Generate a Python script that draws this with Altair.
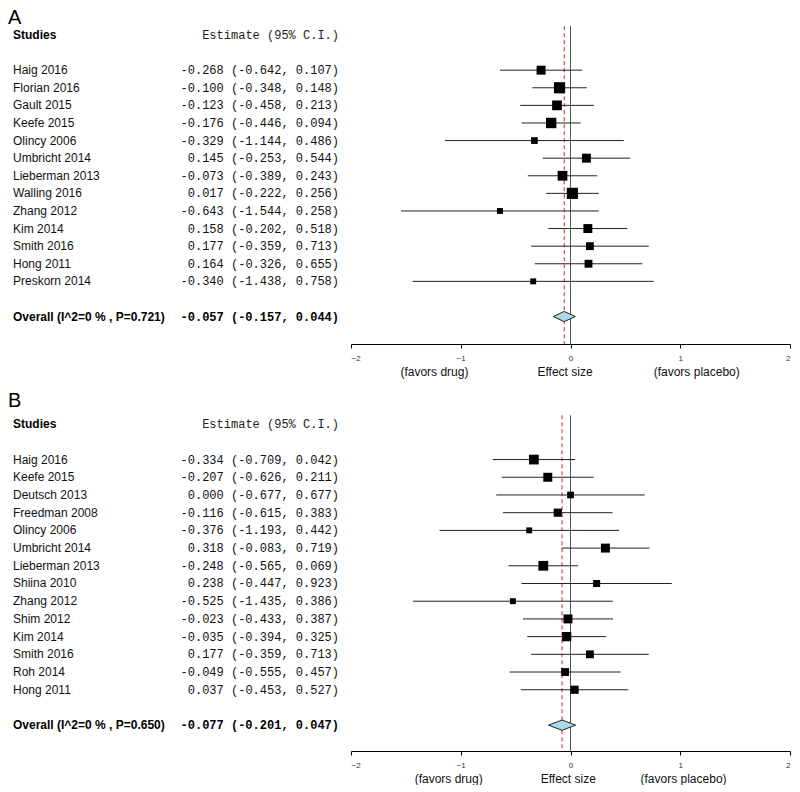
import altair as alt
import pandas as pd

# ---------------- Panel A data ----------------
a_studies = ["Haig 2016", "Florian 2016", "Gault 2015", "Keefe 2015", "Olincy 2006",
             "Umbricht 2014", "Lieberman 2013", "Walling 2016", "Zhang 2012", "Kim 2014",
             "Smith 2016", "Hong 2011", "Preskorn 2014"]
a_est = [-0.268, -0.100, -0.123, -0.176, -0.329, 0.145, -0.073, 0.017, -0.643, 0.158, 0.177, 0.164, -0.340]
a_lo = [-0.642, -0.348, -0.458, -0.446, -1.144, -0.253, -0.389, -0.222, -1.544, -0.202, -0.359, -0.326, -1.438]
a_hi = [0.107, 0.148, 0.213, 0.094, 0.486, 0.544, 0.243, 0.256, 0.258, 0.518, 0.713, 0.655, 0.758]
a_weight = [8.0, 10.0, 8.7, 9.3, 6.0, 8.0, 8.7, 10.0, 5.3, 8.0, 7.0, 7.0, 5.3]
a_overall_label = "Overall (I^2=0 % , P=0.721)"
a_overall = [-0.057, -0.157, 0.044]

# ---------------- Panel B data ----------------
b_studies = ["Haig 2016", "Keefe 2015", "Deutsch 2013", "Freedman 2008", "Olincy 2006",
             "Umbricht 2014", "Lieberman 2013", "Shiina 2010", "Zhang 2012", "Shim 2012",
             "Kim  2014", "Smith 2016", "Roh 2014", "Hong 2011"]
b_est = [-0.334, -0.207, 0.000, -0.116, -0.376, 0.318, -0.248, 0.238, -0.525, -0.023, -0.035, 0.177, -0.049, 0.037]
b_lo = [-0.709, -0.626, -0.677, -0.615, -1.193, -0.083, -0.565, -0.447, -1.435, -0.433, -0.394, -0.359, -0.555, -0.453]
b_hi = [0.042, 0.211, 0.677, 0.383, 0.442, 0.719, 0.069, 0.923, 0.386, 0.387, 0.325, 0.713, 0.457, 0.527]
b_weight = [8.7, 8.0, 6.0, 7.3, 5.3, 8.0, 8.7, 6.3, 5.3, 8.0, 8.3, 7.0, 7.0, 7.3]
b_overall_label = "Overall (I^2=0 % , P=0.650)"
b_overall = [-0.077, -0.201, 0.047]

x_ticks = [-2, -1, 0, 1, 2]
favor_labels = ["(favors drug)", "Effect size", "(favors placebo)"]
a_favor_x = [-1.24, -0.05, 1.15]
b_favor_x = [-1.11, -0.02, 1.03]

SANS = "Liberation Sans"
MONO = "Liberation Mono"


def fmt(e, l, h):
    return f"{e:6.3f} ({l:6.3f}, {h:6.3f})"


def panel(letter, letter_row, studies, est, lo, hi, weight, ov_label, ov, favor_x, H, r_bot,
          left_w=342, plot_w=439):
    n = len(studies)
    r_top = -1.42
    rows = list(range(2, 2 + n))
    ov_row = n + 3
    yscale = alt.Scale(domain=[r_top, r_bot], reverse=True, nice=False, zero=False)

    def Y(f="row"):
        return alt.Y(f"{f}:Q", scale=yscale, axis=None)

    df = pd.DataFrame({"study": studies, "est": est, "lo": lo, "hi": hi, "w": weight, "row": rows})
    df["txt"] = [fmt(e, l, h) for e, l, h in zip(est, lo, hi)]

    # ----- left text table -----
    letter_df = pd.DataFrame({"t": [letter], "row": [letter_row]})
    head_df = pd.DataFrame({"t": ["Studies"], "e": ["Estimate (95% C.I.)"], "row": [0]})
    ov_df = pd.DataFrame({"t": [ov_label], "e": [fmt(*ov)], "row": [ov_row]})

    base_l = alt.Chart(df)
    l_letter = alt.Chart(letter_df).mark_text(font=SANS, fontSize=20, align="left", baseline="middle", color="black").encode(
        x=alt.value(-1), y=Y(), text="t:N")
    l_head1 = alt.Chart(head_df).mark_text(font=SANS, fontSize=12, fontWeight="bold", align="left", baseline="middle", color="black").encode(
        x=alt.value(4), y=Y(), text="t:N")
    l_head2 = alt.Chart(head_df).mark_text(font=MONO, fontSize=12, align="right", baseline="middle", color="#222").encode(
        x=alt.value(330), y=Y(), text="e:N")
    l_names = base_l.mark_text(font=SANS, fontSize=12, align="left", baseline="middle", color="#111").encode(
        x=alt.value(4), y=Y(), text="study:N")
    l_est = base_l.mark_text(font=MONO, fontSize=12, align="right", baseline="middle", color="#111").encode(
        x=alt.value(330), y=Y(), text="txt:N")
    l_ov1 = alt.Chart(ov_df).mark_text(font=SANS, fontSize=12, fontWeight="bold", align="left", baseline="middle", color="black").encode(
        x=alt.value(4), y=Y(), text="t:N")
    l_ov2 = alt.Chart(ov_df).mark_text(font=MONO, fontSize=12, fontWeight="bold", align="right", baseline="middle", color="black").encode(
        x=alt.value(330), y=Y(), text="e:N")
    left = alt.layer(l_letter, l_head1, l_head2, l_names, l_est, l_ov1, l_ov2).properties(width=left_w, height=H)

    # ----- right forest plot -----
    xscale = alt.Scale(domain=[-2, 2], nice=False, zero=False)
    xaxis = alt.Axis(values=x_ticks, title=None, grid=False, labelFontSize=8, labelFont=SANS, tickSize=4,
                     labelPadding=6, domainColor="black", tickColor="black", labelColor="#333", format="d")

    def X(f):
        return alt.X(f"{f}:Q", scale=xscale, axis=xaxis)

    vlines = pd.DataFrame({"x": [0], "y1": [-0.5], "y2": [r_bot]})
    red = pd.DataFrame({"x": [ov[0]], "y1": [-0.5], "y2": [r_bot]})
    d = 0.29
    dia = pd.DataFrame({"x": [ov[1], ov[0], ov[2]],
                        "ya": [ov_row, ov_row - d, ov_row],
                        "yb": [ov_row, ov_row + d, ov_row]})
    fav = pd.DataFrame({"x": favor_x, "t": favor_labels})

    zero_rule = alt.Chart(vlines).mark_rule(color="#555", strokeWidth=1).encode(
        x=X("x"), y=Y("y1"), y2="y2:Q")
    red_rule = alt.Chart(red).mark_rule(color="#d62020", strokeWidth=1, strokeDash=[4, 3]).encode(
        x=X("x"), y=Y("y1"), y2="y2:Q")
    ci = alt.Chart(df).mark_rule(color="#222", strokeWidth=1).encode(
        x=X("lo"), x2="hi:Q", y=Y())
    sq = alt.Chart(df).transform_calculate(area="(datum.w * 1.12) * (datum.w * 1.12)").mark_square(
        color="black", filled=True, opacity=1).encode(
        x=X("est"), y=Y(), size=alt.Size("area:Q", scale=None))
    diamond = alt.Chart(dia).mark_area(orient="vertical", fill="#ADD8E6", stroke="#222", strokeWidth=1, opacity=1).encode(
        x=X("x"), y=Y("ya"), y2="yb:Q")
    fav_txt = alt.Chart(fav).mark_text(font=SANS, fontSize=12, baseline="middle", align="center", color="#111").encode(
        x=X("x"), y=alt.value(H + 28), text="t:N")
    right = alt.layer(zero_rule, red_rule, ci, sq, diamond, fav_txt).properties(width=plot_w, height=H)

    return alt.hconcat(left, right, spacing=0, bounds="flush")


pA = panel("A", -0.95, a_studies, a_est, a_lo, a_hi, a_weight, a_overall_label, a_overall, a_favor_x,
           H=334, r_bot=17.56)
pB = panel("B", -1.3, b_studies, b_est, b_lo, b_hi, b_weight, b_overall_label, b_overall, b_favor_x,
           H=352, r_bot=18.46)

chart = alt.vconcat(pA, pB, spacing=13).properties(padding=0).configure_view(stroke=None)

chart.save("out.html", embed_options={"renderer": "svg", "actions": False})
